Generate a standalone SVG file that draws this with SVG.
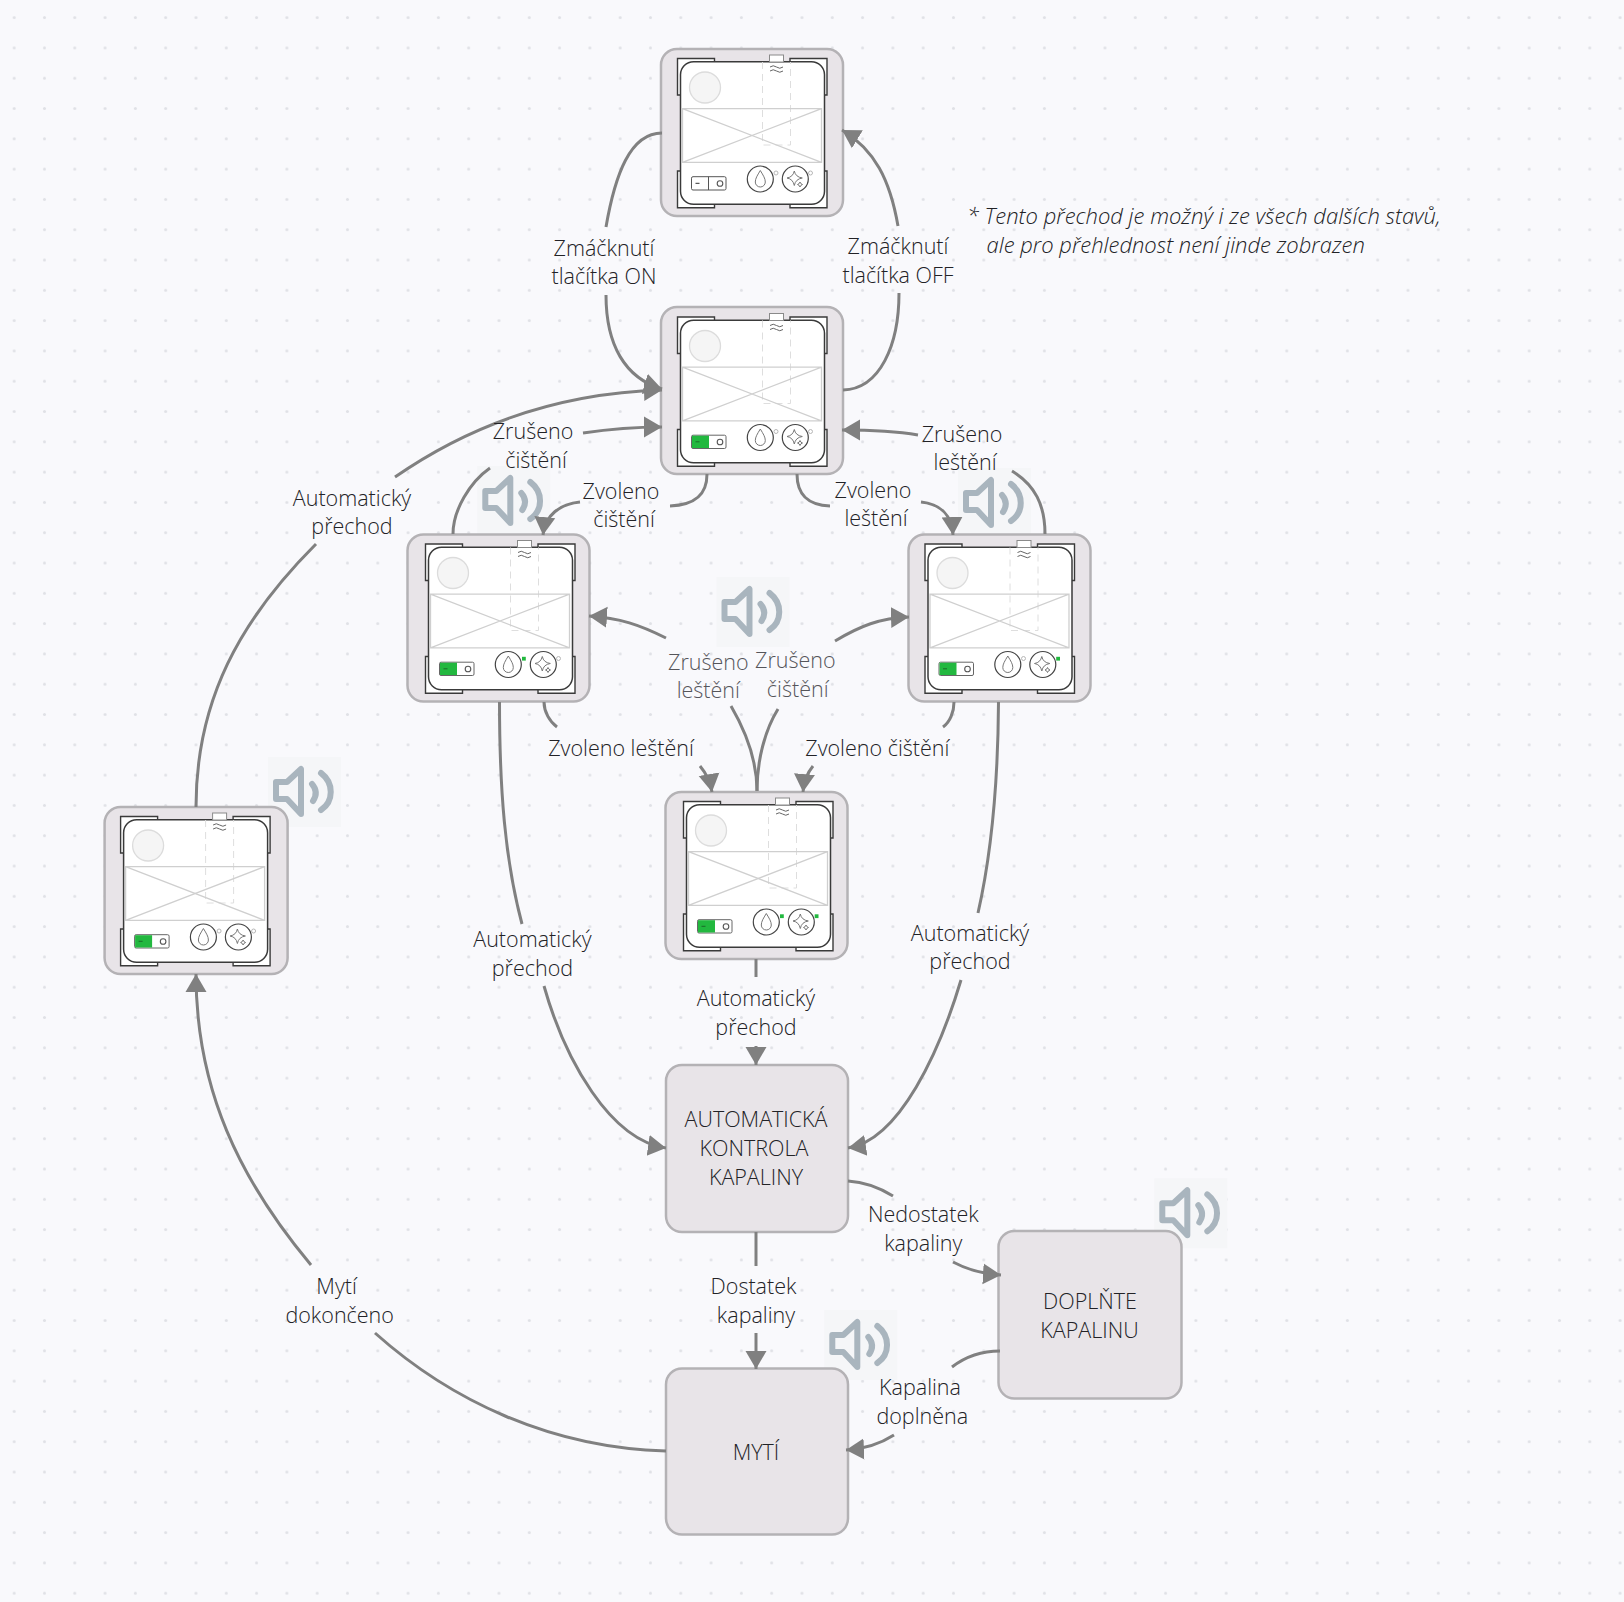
<svg xmlns="http://www.w3.org/2000/svg" width="1624" height="1602" viewBox="0 0 1624 1602">
<style>
text{font-family:"Open Sans","Noto Sans","Liberation Sans",sans-serif;font-size:21.5px;font-weight:300;fill:#222226;text-anchor:middle}
.gt{fill:#55555a}
.note{font-style:italic;text-anchor:start;font-size:22px}
.outer{fill:#e8e4e8;stroke:#b4b2b5;stroke-width:2.5}
.box{fill:#e8e4e8;stroke:#b4b2b5;stroke-width:2.5}
.c{fill:none;stroke:#808080;stroke-width:3}
.a{marker-end:url(#arrow)}
.sp{fill:none;stroke:#a9b5be;stroke-width:6;stroke-linecap:round;stroke-linejoin:round}
.spbg{fill:#f5f6f8}
.ln{fill:none;stroke:#3a3a3a;stroke-width:1.4}
.lg{fill:none;stroke:#cfcfcf;stroke-width:1.3}
.ic{fill:none;stroke:#777;stroke-width:1}
.on{fill:#22b83f}
.off{fill:#fff;stroke:#b0b0b0;stroke-width:.9}
</style>
<defs>
<pattern id="dots" width="30.3" height="30.3" patternUnits="userSpaceOnUse" patternTransform="translate(-0.95,2.45)"><circle cx="15.15" cy="15.15" r="1.5" fill="#e0e1e6"/></pattern>
<marker id="arrow" markerUnits="userSpaceOnUse" markerWidth="24" markerHeight="26" refX="18" refY="12" orient="auto"><path d="M0 1.500L18 12L0 22.500Z" fill="#808080"/></marker>
<g id="speaker">
<rect class="spbg" width="73" height="70"/>
<path class="sp" d="M8 25H19L33 12V57L19 42H8Z"/>
<path class="sp" d="M44 27Q51 35 45 44"/>
<path class="sp" d="M53 16C66 26 66 44 53 53"/>
</g>
<g id="screen">
<path d="M18 46V9.500H55V20H30V46ZM167.500 46V9.500H130.500V20H155V46ZM18 122V158.700H55V150H30V122ZM167.500 122V158.700H130.500V150H155V122Z" fill="#fff"/>
<path class="ln" d="M21 46H18V9.500H55V12.700M130.500 12.700V9.500H167.500V46H165M21 122H18V158.700H55V155.300M130.500 155.300V158.700H167.500V122H165"/>
<rect x="21" y="12.700" width="144" height="142.600" rx="13" fill="#fff" stroke="#3a3a3a" stroke-width="1.500"/>
<rect x="110" y="6" width="14" height="7" fill="#fff" stroke="#8a8a8a" stroke-width="1"/>
<path d="M110.500 18q3.200-2.500 6.500 0t6.500 0M110.500 22q3.200-2.500 6.500 0t6.500 0" fill="none" stroke="#666" stroke-width="1"/>
<path d="M103 13V96H131V13" fill="none" stroke="#dedede" stroke-width="1" stroke-dasharray="7 5"/>
<circle cx="45.500" cy="38.500" r="15.500" fill="#f5f5f5" stroke="#dcdcdc" stroke-width="1.300"/>
<path class="lg" d="M23 59.700H162V113.300H23ZM23 59.700L162 113.300M162 59.700L23 113.300"/>
<circle cx="100.800" cy="130" r="13" fill="#fff" stroke="#444" stroke-width="1.200"/>
<path class="ic" d="M100.800 121.500C103.800 126.500 105.800 129.500 105.800 133A5 5 0 0 1 95.800 133C95.800 129.500 97.800 126.500 100.800 121.500Z"/>
<circle cx="135.800" cy="130" r="13" fill="#fff" stroke="#444" stroke-width="1.200"/>
<path class="ic" d="M134.800 122Q136 128 142.800 129Q136 130 134.800 136.500Q133.500 130 127.500 129Q133.500 128 134.800 122ZM140.500 133Q141 135 143 135.500Q141 136 140.500 138Q140 136 138 135.500Q140 135 140.500 133Z"/>
</g>
<g id="tog">
<rect x="32" y="127.700" width="34.500" height="13.300" rx="1.500" fill="#fff" stroke="#555" stroke-width="1"/>
<path d="M49 127.700V141" stroke="#555" stroke-width="1"/>
<path d="M36 134.300H40" stroke="#333" stroke-width="1"/>
<circle cx="60.500" cy="134.500" r="2.800" fill="#fff" stroke="#555" stroke-width="1.100"/>
</g>
<g id="togon">
<rect x="32" y="127.700" width="34.500" height="13.300" rx="1.500" fill="#fff" stroke="#666" stroke-width="1"/>
<rect x="32.500" y="128.200" width="17" height="12.300" class="on"/>
<path d="M36 134.300H40" stroke="#1c6b2b" stroke-width="1"/>
<circle cx="60.500" cy="134.500" r="2.800" fill="#fff" stroke="#555" stroke-width="1.100"/>
</g>
<circle id="i1" class="off" cx="116.500" cy="124" r="2"/>
<circle id="i2" class="off" cx="151" cy="124" r="2"/>
<rect id="g1" class="on" x="114.500" y="122.300" width="3.800" height="3.800"/>
<rect id="g2" class="on" x="149.200" y="122.300" width="3.800" height="3.800"/>
</defs>
<rect width="1624" height="1602" fill="#f9f9fc"/>
<rect width="1624" height="1602" fill="url(#dots)"/>
<g id="speakers">
<use href="#speaker" x="477.300" y="466"/>
<use href="#speaker" x="958" y="468"/>
<use href="#speaker" x="716.500" y="577"/>
<use href="#speaker" x="268" y="757"/>
<use href="#speaker" x="1154.300" y="1178.300"/>
<use href="#speaker" x="824.300" y="1310"/>
</g>
<g id="n1" transform="translate(661,49)"><rect class="outer" width="182" height="167" rx="16"/><g transform="translate(-1.500,0)"><use href="#screen"/><use href="#tog"/><use href="#i1"/><use href="#i2"/></g></g>
<g id="n2" transform="translate(661,307)"><rect class="outer" width="182" height="167" rx="16"/><g transform="translate(-1.500,0.500)"><use href="#screen"/><use href="#togon"/><use href="#i1"/><use href="#i2"/></g></g>
<g id="n3" transform="translate(407.500,534.500)"><rect class="outer" width="182" height="167" rx="16"/><use href="#screen"/><use href="#togon"/><use href="#g1"/><use href="#i2"/></g>
<g id="n4" transform="translate(908.500,534.500)"><rect class="outer" width="182" height="167" rx="16"/><g transform="translate(-1.500,0)"><use href="#screen"/><use href="#togon"/><use href="#i1"/><use href="#g2"/></g></g>
<g id="n5" transform="translate(665.500,792)"><rect class="outer" width="182" height="167" rx="16"/><use href="#screen"/><use href="#togon"/><use href="#g1"/><use href="#g2"/></g>
<g id="n6" transform="translate(104.600,807)"><rect class="outer" width="183" height="167" rx="16"/><g transform="translate(-2,0)"><use href="#screen"/><use href="#togon"/><use href="#i1"/><use href="#i2"/></g></g>
<g id="n7"><rect class="box" x="666" y="1065" width="182" height="167" rx="16"/><text x="756" y="1126.500">AUTOMATICKÁ</text><text x="754" y="1155.500">KONTROLA</text><text x="756" y="1184.500">KAPALINY</text></g>
<g id="n8"><rect class="box" x="998.500" y="1231" width="183" height="167.500" rx="16"/><text x="1090" y="1308.500">DOPLŇTE</text><text x="1089.500" y="1337.500">KAPALINU</text></g>
<g id="n9"><rect class="box" x="666" y="1368.500" width="182" height="166" rx="16"/><text x="756" y="1460">MYTÍ</text></g>
<g id="connectors">
<path class="c" d="M662 133C630 133 615 175 606 227"/>
<path class="c a" d="M606 295C606 345 625 378 662 389"/>
<path class="c" d="M843 390C880 389 899 345 899 293"/>
<path class="c a" d="M898 226C890 180 875 150 842 130"/>
<path class="c" d="M196 807C196 700 240 620 316 544"/>
<path class="c a" d="M395 477C470 425 560 393 662 390"/>
<path class="c" d="M453 534C453 510 470 482 490 468"/>
<path class="c a" d="M583 433C610 429 635 427 662 427"/>
<path class="c" d="M707 474C707 495 695 505 670 506"/>
<path class="c a" d="M580 502C560 504 545 515 543 535"/>
<path class="c" d="M797 474C797 495 808 505 830 506"/>
<path class="c a" d="M921 502C940 504 952 515 953 535"/>
<path class="c" d="M1045 534C1045 505 1035 485 1012 471"/>
<path class="c a" d="M918 435C895 431 870 430 842 430"/>
<path class="c" d="M757 791C757 760 745 730 731 706"/>
<path class="c a" d="M666 638C640 625 620 618 589 616"/>
<path class="c" d="M757 791C757 760 765 730 778 709"/>
<path class="c a" d="M835 641C860 626 880 618 909 617"/>
<path class="c" d="M544 702C544 712 550 722 557 727"/>
<path class="c a" d="M700 766C705 772 710 780 712 792"/>
<path class="c" d="M954 702C954 712 950 722 943 727"/>
<path class="c a" d="M813 766C808 772 804 780 803 792"/>
<path class="c" d="M499.500 702C499.500 790 505 860 522 924"/>
<path class="c a" d="M544 986C565 1060 610 1140 666 1148"/>
<path class="c" d="M998.500 702C998 790 990 860 978 913"/>
<path class="c a" d="M961 980C940 1050 900 1140 848 1148"/>
<path class="c" d="M756 959V977"/>
<path class="c a" d="M756 1046V1065"/>
<path class="c" d="M756 1232V1266"/>
<path class="c a" d="M756 1333V1369"/>
<path class="c" d="M848 1181C865 1182 880 1188 893 1196"/>
<path class="c a" d="M953 1262C968 1270 985 1274 1001 1275"/>
<path class="c" d="M1000 1351C980 1351 965 1357 952 1367"/>
<path class="c a" d="M894 1435C880 1444 865 1449 846 1450"/>
<path class="c" d="M666 1451C550 1448 450 1400 375 1333"/>
<path class="c a" d="M311 1265C240 1180 196 1090 196 974"/>
</g>
<g id="labels">
<text x="604" y="255.500">Zmáčknutí</text><text x="604" y="284">tlačítka ON</text>
<text x="898" y="254">Zmáčknutí</text><text x="898" y="282.500">tlačítka OFF</text>
<text x="533" y="439">Zrušeno</text><text x="536" y="468">čištění</text>
<text x="621" y="498.500">Zvoleno</text><text x="624" y="527">čištění</text>
<text x="873" y="498">Zvoleno</text><text x="876" y="526">leštění</text>
<text x="962" y="441.700">Zrušeno</text><text x="965" y="470">leštění</text>
<text x="352" y="505.500">Automatický</text><text x="352" y="534">přechod</text>
<text class="gt" x="708.300" y="669.500">Zrušeno</text><text class="gt" x="708.300" y="698">leštění</text>
<text class="gt" x="795.300" y="668">Zrušeno</text><text class="gt" x="797.700" y="696.500">čištění</text>
<text x="621" y="755.700">Zvoleno leštění</text><text x="877.300" y="755.700">Zvoleno čištění</text>
<text x="532.400" y="946.500">Automatický</text><text x="532.400" y="975.500">přechod</text>
<text x="970" y="940.500">Automatický</text><text x="970" y="969">přechod</text>
<text x="756" y="1005.500">Automatický</text><text x="756" y="1034.500">přechod</text>
<text x="753.500" y="1293.500">Dostatek</text><text x="756" y="1322.500">kapaliny</text>
<text x="923.300" y="1221.700">Nedostatek</text><text x="923.300" y="1251">kapaliny</text>
<text x="920" y="1395">Kapalina</text><text x="922.300" y="1424">doplněna</text>
<text x="336.600" y="1293.500">Mytí</text><text x="339.700" y="1322.500">dokončeno</text>
<text class="note" x="967" y="224">* Tento přechod je možný i ze všech dalších stavů,</text>
<text class="note" x="986.500" y="253">ale pro přehlednost není jinde zobrazen</text>
</g>
</svg>
